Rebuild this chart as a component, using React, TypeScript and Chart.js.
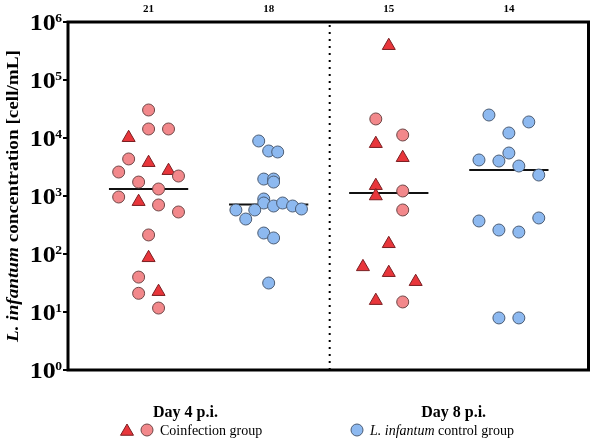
import { useEffect, useRef } from "react";
import { Chart, registerables } from "chart.js";

Chart.register(...registerables);

// Number of animals shown above each column
const groupCounts = ["21", "18", "15", "14"];
const groupPositions = [1, 2, 3, 4];

// Time-point labels under the x axis
const dayLabels = ["Day 4 p.i.", "Day 8 p.i."];
const dayLabelPositions = [1.307, 3.54];

// Decades of the log y axis (10^0 … 10^6)
const decadeExponents = [0, 1, 2, 3, 4, 5, 6];

// Individual animals: [column position, L. infantum cells per mL]
const day4CoinfectionCircles: [number, number][] = [
  [1.0, 30400], [1.0, 14300], [1.166, 14300], [0.834, 4350], [0.751, 2590],
  [1.249, 2210], [0.917, 1740], [1.083, 1320], [0.751, 961], [1.083, 700],
  [1.249, 530], [1.0, 213], [0.917, 40], [0.917, 21], [1.083, 11.7],
];
const day4CoinfectionTriangles: [number, number][] = [
  [0.834, 10100], [1.0, 3750], [1.166, 2730], [0.917, 798], [1.0, 86], [1.083, 22.4],
];
const day4ControlCircles: [number, number][] = [
  [1.917, 8880], [2.0, 5970], [2.075, 5740], [1.959, 1960], [2.041, 1960],
  [2.041, 1740], [1.959, 888], [1.959, 757], [2.041, 672], [2.116, 757],
  [2.199, 672], [2.273, 597], [1.727, 574], [1.809, 401], [1.884, 574],
  [1.959, 230], [2.041, 189], [2.0, 31.6],
];
const day8CoinfectionCircles: [number, number][] = [
  [2.892, 21300], [3.116, 11270], [3.116, 1220], [3.116, 574], [3.116, 14.9],
];
const day8CoinfectionTriangles: [number, number][] = [
  [3.0, 390000], [2.892, 7980], [3.116, 4570], [2.892, 1505], [2.892, 1000],
  [3.0, 150], [2.785, 60], [3.0, 47.6], [3.224, 33.3], [2.892, 15.7],
];
const day8ControlCircles: [number, number][] = [
  [3.834, 24900], [4.166, 18900], [4.0, 12200], [4.0, 5510], [3.751, 4180],
  [3.917, 4010], [4.083, 3290], [4.249, 2300], [4.249, 418], [3.751, 371],
  [3.917, 259], [4.083, 239], [3.917, 7.9], [4.083, 7.9],
];

// Group medians, in column order
const medians = [1320, 714, 1130, 2800];

const PINK = "#F2888B";
const PINK_BORDER = "#6e4646";
const RED = "#E8363B";
const RED_BORDER = "#7a1f22";
const BLUE = "#8DB9F0";
const BLUE_BORDER = "#4b5c74";
const SERIF = "'Liberation Serif', 'Times New Roman', serif";

const toPoints = (rows: [number, number][]) => rows.map(([x, y]) => ({ x, y }));

// text drawn with a horizontal stretch factor
const stretchedText = (ctx: CanvasRenderingContext2D, text: string, x: number, y: number, sx: number) => {
  ctx.save();
  ctx.translate(x, y);
  ctx.scale(sx, 1);
  ctx.fillText(text, 0, 0);
  ctx.restore();
};

const annotations = {
  id: "annotations",
  afterDatasetsDraw(chart: any) {
    const { ctx, chartArea, scales } = chart;
    const y = scales.y;
    ctx.save();

    // heavy frame round the plot
    ctx.strokeStyle = "#000";
    ctx.lineWidth = 3;
    ctx.strokeRect(chartArea.left, chartArea.top, chartArea.right - chartArea.left, chartArea.bottom - chartArea.top);

    // short decade tick marks outside the left axis
    ctx.lineWidth = 2;
    decadeExponents.forEach((e) => {
      const py = Math.round(y.getPixelForValue(Math.pow(10, e)));
      ctx.beginPath();
      ctx.moveTo(chartArea.left - 5, py);
      ctx.lineTo(chartArea.left, py);
      ctx.stroke();
    });

    // y tick labels: 10 with a raised exponent
    const sx = 1.13;
    ctx.fillStyle = "#000";
    ctx.textBaseline = "alphabetic";
    ctx.textAlign = "left";
    decadeExponents.forEach((e) => {
      const py = y.getPixelForValue(Math.pow(10, e));
      ctx.font = `bold 12px ${SERIF}`;
      const exp = String(e);
      const we = ctx.measureText(exp).width * sx;
      const expX = chartArea.left - 6 - we;
      stretchedText(ctx, exp, expX, py - 0.5, sx);
      ctx.font = `bold 23px ${SERIF}`;
      const wb = ctx.measureText("10").width * sx;
      stretchedText(ctx, "10", expX - wb + 0.5, py + 8, sx);
    });

    // rotated y title with italic species name
    ctx.save();
    ctx.translate(18, 196);
    ctx.rotate(-Math.PI / 2);
    const italicPart = "L. infantum";
    const plainPart = " concentration [cell/mL]";
    const titleSize = 16;
    ctx.font = `italic bold ${titleSize}px ${SERIF}`;
    const wi = ctx.measureText(italicPart).width;
    ctx.font = `bold ${titleSize}px ${SERIF}`;
    const wp = ctx.measureText(plainPart).width;
    const tsx = 292 / (wi + wp);
    ctx.scale(tsx, 1);
    let tx = -(wi + wp) / 2;
    ctx.font = `italic bold ${titleSize}px ${SERIF}`;
    ctx.fillText(italicPart, tx, 0);
    tx += wi;
    ctx.font = `bold ${titleSize}px ${SERIF}`;
    ctx.fillText(plainPart, tx, 0);
    ctx.restore();

    // legend
    const ly = 430;
    const drawTriangle = (cx: number, cy: number, r: number) => {
      ctx.beginPath();
      for (let i = 0; i < 3; i++) {
        const a = (i * 2 * Math.PI) / 3;
        const px = cx + Math.sin(a) * r;
        const pyy = cy - Math.cos(a) * r;
        if (i === 0) ctx.moveTo(px, pyy);
        else ctx.lineTo(px, pyy);
      }
      ctx.closePath();
      ctx.fillStyle = RED;
      ctx.fill();
      ctx.strokeStyle = RED_BORDER;
      ctx.lineWidth = 1;
      ctx.stroke();
    };
    const drawCircle = (cx: number, cy: number, fill: string, border: string) => {
      ctx.beginPath();
      ctx.arc(cx, cy, 6, 0, Math.PI * 2);
      ctx.fillStyle = fill;
      ctx.fill();
      ctx.strokeStyle = border;
      ctx.lineWidth = 1;
      ctx.stroke();
    };
    drawTriangle(127, ly + 1.5, 7.5);
    drawCircle(147, ly, PINK, PINK_BORDER);
    drawCircle(357, ly, BLUE, BLUE_BORDER);

    ctx.fillStyle = "#000";
    ctx.textBaseline = "alphabetic";
    ctx.font = `14px ${SERIF}`;
    ctx.fillText("Coinfection group", 160, ly + 5);
    ctx.font = `italic 14px ${SERIF}`;
    ctx.fillText("L. infantum", 370, ly + 5);
    const wl = ctx.measureText("L. infantum").width;
    ctx.font = `14px ${SERIF}`;
    ctx.fillText(" control group", 370 + wl, ly + 5);

    ctx.restore();
  },
};

export default function App() {
  const canvasRef = useRef<HTMLCanvasElement | null>(null);

  useEffect(() => {
    const canvas = canvasRef.current;
    if (!canvas) return;

    const medianSets = medians.map((m, i) => ({
      type: "line" as const,
      data: [
        { x: groupPositions[i] - 0.33, y: m },
        { x: groupPositions[i] + 0.33, y: m },
      ],
      borderColor: "#111",
      borderWidth: 2,
      pointRadius: 0,
      showLine: true,
      order: 5,
    }));

    const chart = new Chart(canvas, {
      type: "scatter",
      data: {
        datasets: [
          {
            type: "line",
            data: [
              { x: 2.508, y: 1 },
              { x: 2.508, y: 1e6 },
            ],
            borderColor: "#000",
            borderWidth: 2,
            borderDash: [2, 5],
            pointRadius: 0,
            showLine: true,
            order: 6,
          } as any,
          ...medianSets,
          {
            data: toPoints([...day4CoinfectionCircles, ...day8CoinfectionCircles]),
            pointStyle: "circle",
            pointRadius: 6,
            backgroundColor: PINK,
            borderColor: PINK_BORDER,
            borderWidth: 1,
            order: 1,
          },
          {
            data: toPoints([...day4CoinfectionTriangles, ...day8CoinfectionTriangles]),
            pointStyle: "triangle",
            pointRadius: 7.5,
            backgroundColor: RED,
            borderColor: RED_BORDER,
            borderWidth: 1,
            order: 1,
          },
          {
            data: toPoints([...day4ControlCircles, ...day8ControlCircles]),
            pointStyle: "circle",
            pointRadius: 6,
            backgroundColor: BLUE,
            borderColor: BLUE_BORDER,
            borderWidth: 1,
            order: 1,
          },
        ],
      },
      plugins: [annotations],
      options: {
        responsive: false,
        animation: false,
        devicePixelRatio: 1,
        layout: { padding: { left: 0, right: 6, top: 0, bottom: 0 } },
        plugins: {
          legend: { display: false },
          tooltip: { enabled: false },
        },
        scales: {
          x: {
            type: "linear",
            position: "bottom",
            min: 0.329,
            max: 4.663,
            grid: { display: false, drawTicks: false },
            border: { display: false },
            afterBuildTicks: (s: any) => {
              s.ticks = dayLabelPositions.map((v) => ({ value: v }));
            },
            afterFit: (s: any) => {
              s.height = 69;
            },
            ticks: {
              autoSkip: false,
              maxRotation: 0,
              padding: 33,
              color: "#000",
              font: { family: SERIF, size: 16, weight: "bold" },
              callback: (_v: any, i: number) => dayLabels[i],
            },
          },
          x2: {
            type: "linear",
            position: "top",
            min: 0.329,
            max: 4.663,
            grid: { display: false, drawTicks: false },
            border: { display: false },
            afterBuildTicks: (s: any) => {
              s.ticks = groupPositions.map((v) => ({ value: v }));
            },
            afterFit: (s: any) => {
              s.height = 22;
            },
            ticks: {
              autoSkip: false,
              maxRotation: 0,
              padding: 6,
              color: "#000",
              font: { family: SERIF, size: 11, weight: "bold" },
              callback: (_v: any, i: number) => groupCounts[i],
            },
          },
          y: {
            type: "logarithmic",
            min: 1,
            max: 1e6,
            grid: { display: false, drawTicks: false },
            border: { display: false },
            ticks: { display: false },
            afterFit: (s: any) => {
              s.width = 68;
            },
          },
        },
      } as any,
    });

    return () => chart.destroy();
  }, []);

  return (
    <div style={{ position: "fixed", left: 0, top: 0, width: 597, height: 439, background: "#fff" }}>
      <canvas ref={canvasRef} width={597} height={439} style={{ width: 597, height: 439, display: "block" }} />
    </div>
  );
}
